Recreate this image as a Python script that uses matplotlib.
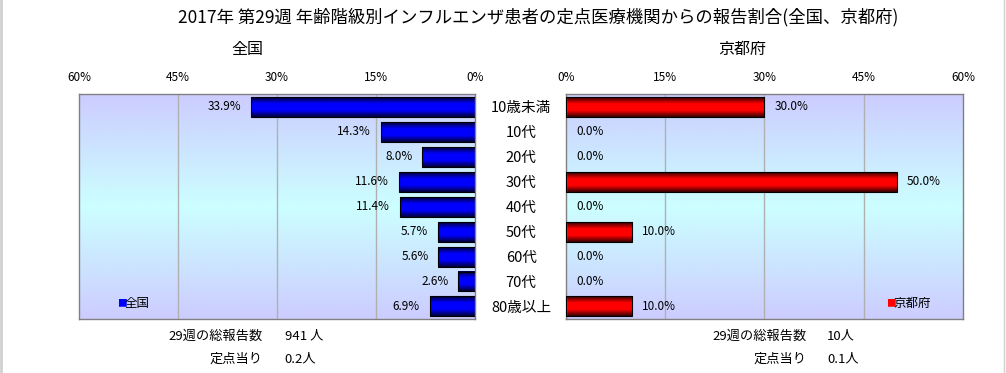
import numpy as np
import matplotlib
matplotlib.use("Agg")
from matplotlib import pyplot as plt
from matplotlib.colors import LinearSegmentedColormap
from matplotlib.lines import Line2D

plt.rcParams['font.family'] = ['Noto Sans CJK JP', 'DejaVu Sans']

# Data
ages = ['10歳未満', '10代', '20代', '30代', '40代', '50代', '60代', '70代', '80歳以上']
national = [33.9, 14.3, 8.0, 11.6, 11.4, 5.7, 5.6, 2.6, 6.9]
kyoto = [30.0, 0.0, 0.0, 50.0, 0.0, 10.0, 0.0, 0.0, 10.0]
ticks = [0, 15, 30, 45, 60]

title = '2017年 第29週 年齢階級別インフルエンザ患者の定点医療機関からの報告割合(全国、京都府)'
left_name, right_name = '全国', '京都府'
left_total, right_total = '941 人', '10人'
left_per, right_per = '0.2人', '0.1人'

# Colormaps
bg_cmap = LinearSegmentedColormap.from_list('bg', ['#ccccff', '#ccffff', '#ccccff'])
blue_cmap = LinearSegmentedColormap.from_list('b', ['#000030', '#0000ff', '#0000ff', '#000030'])
red_cmap = LinearSegmentedColormap.from_list('r', ['#300000', '#ff0000', '#ff0000', '#300000'])
grad = np.linspace(0, 1, 256).reshape(-1, 1)

fig = plt.figure(figsize=(10.06, 3.73), dpi=100)
fig.patch.set_facecolor('white')

axL = fig.add_axes([0.0785, 0.1448, 0.394, 0.603])
axR = fig.add_axes([0.5626, 0.1448, 0.3946, 0.603])


def draw(ax, vals, cmap, left):
    y = np.arange(len(ages))
    xlim = (60, 0) if left else (0, 60)
    ylim = (len(ages) - 0.5, -0.5)
    # background gradient
    ax.imshow(grad, aspect='auto', cmap=bg_cmap, extent=(*xlim, *ylim),
              zorder=0, interpolation='bilinear')
    for t in ticks[1:-1]:
        ax.axvline(t, color='#b0b0b0', lw=1, zorder=1)
    bars = ax.barh(y, vals, height=0.8, color='none', edgecolor='black', lw=0.8, zorder=3)
    for b, v in zip(bars, vals):
        yc = b.get_y() + b.get_height() / 2
        if v > 0:
            x0, x1 = b.get_x(), b.get_x() + b.get_width()
            y0, y1 = b.get_y(), b.get_y() + b.get_height()
            ax.imshow(grad, aspect='auto', cmap=cmap, extent=(x0, x1, y1, y0),
                      zorder=2, interpolation='bilinear')
        else:
            b.set_linewidth(0)
        if left:
            ax.text(v + 1.5, yc, f'{v:.1f}%', ha='right', va='center', fontsize=8.5, zorder=4)
        else:
            ax.text(v + 1.5, yc, f'{v:.1f}%', ha='left', va='center', fontsize=8.5, zorder=4)
    ax.set_xlim(*xlim)
    ax.set_ylim(*ylim)
    ax.set_xticks(ticks)
    ax.set_xticklabels([f'{t}%' for t in ticks], fontsize=8.5)
    ax.xaxis.tick_top()
    ax.tick_params(axis='x', length=0, pad=7)
    ax.set_yticks([])
    for s in ax.spines.values():
        s.set_color('#808080')
        s.set_linewidth(1)


draw(axL, national, blue_cmap, True)
draw(axR, kyoto, red_cmap, False)

# Category labels between the panels
for i, a in enumerate(ages):
    axL.annotate(a, xy=(0, i), xycoords='data', xytext=(33, -1), textcoords='offset points',
                 ha='center', va='center', fontsize=10.5, annotation_clip=False)

# Legends
axL.text(0.095, 0.07, '■', color='#0000ff', transform=axL.transAxes, fontsize=7,
         ha='left', va='center')
axL.text(0.115, 0.07, left_name, transform=axL.transAxes, fontsize=9, ha='left', va='center')
axR.text(0.805, 0.07, '■', color='#ff0000', transform=axR.transAxes, fontsize=7,
         ha='left', va='center')
axR.text(0.825, 0.07, right_name, transform=axR.transAxes, fontsize=9, ha='left', va='center')

# Titles
fig.text(0.535, 0.955, title, ha='center', va='center', fontsize=12.5)
fig.text(0.2455, 0.868, left_name, ha='center', va='center', fontsize=11.5)
fig.text(0.7375, 0.868, right_name, ha='center', va='center', fontsize=11.5)

# Summary text
fig.text(0.261, 0.099, '29週の総報告数', ha='right', va='center', fontsize=9.5)
fig.text(0.283, 0.099, left_total, ha='left', va='center', fontsize=9.5)
fig.text(0.261, 0.037, '定点当り', ha='right', va='center', fontsize=9.5)
fig.text(0.283, 0.037, left_per, ha='left', va='center', fontsize=9.5)
fig.text(0.802, 0.099, '29週の総報告数', ha='right', va='center', fontsize=9.5)
fig.text(0.822, 0.099, right_total, ha='left', va='center', fontsize=9.5)
fig.text(0.802, 0.037, '定点当り', ha='right', va='center', fontsize=9.5)
fig.text(0.822, 0.037, right_per, ha='left', va='center', fontsize=9.5)

# Frame edges
fig.add_artist(Line2D([0.001, 0.001], [0, 1], color='#d0d0d0', lw=2, transform=fig.transFigure))
fig.add_artist(Line2D([0.998, 0.998], [0, 1], color='#d0d0d0', lw=1, transform=fig.transFigure))

fig.savefig('out.png', dpi=100)
